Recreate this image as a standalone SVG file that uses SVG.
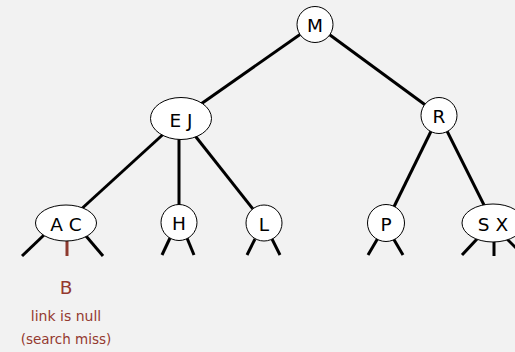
<svg xmlns="http://www.w3.org/2000/svg" width="515" height="352" viewBox="0 0 515 352">
  <style>
    .edge { stroke: #000; stroke-width: 3; stroke-linecap: butt; fill: none; }
    .nil { stroke: #000; stroke-width: 3; }
    .miss { stroke: #8e3a2f; stroke-width: 3; }
    .node { fill: #fff; stroke: #000; stroke-width: 1; }
    .key { font-family: "DejaVu Sans", "Open Sans", sans-serif; font-size: 18.5px; fill: #000; text-anchor: middle; }
    .note { font-family: "DejaVu Sans", "Open Sans", sans-serif; fill: #94392f; text-anchor: middle; }
  </style>
  <rect width="515" height="352" fill="#f2f2f2"/>

  <g id="connectors">
    <line class="edge" x1="315" y1="24" x2="181" y2="118"/>
    <line class="edge" x1="315" y1="24" x2="439" y2="115"/>
    <line class="edge" x1="181" y1="118" x2="66" y2="223"/>
    <line class="edge" x1="179" y1="118" x2="179" y2="222"/>
    <line class="edge" x1="181" y1="118" x2="264" y2="223"/>
    <line class="edge" x1="439" y1="115" x2="386" y2="223"/>
    <line class="edge" x1="439" y1="115" x2="493" y2="223"/>
    <!-- null links -->
    <line class="nil" x1="22" y1="256" x2="44" y2="235"/>
    <line class="nil" x1="86" y1="236" x2="103" y2="256"/>
    <line class="miss" x1="67" y1="240" x2="67" y2="256"/>
    <line class="nil" x1="162" y1="255" x2="170" y2="238"/>
    <line class="nil" x1="187" y1="238" x2="194" y2="255"/>
    <line class="nil" x1="247" y1="255" x2="255" y2="239"/>
    <line class="nil" x1="272" y1="239" x2="280" y2="255"/>
    <line class="nil" x1="368" y1="255" x2="378" y2="238"/>
    <line class="nil" x1="393" y1="238" x2="403" y2="255"/>
    <line class="nil" x1="462" y1="255" x2="477" y2="239"/>
    <line class="nil" x1="494" y1="240" x2="494" y2="256"/>
    <line class="nil" x1="506" y1="238" x2="520" y2="252"/>
  </g>

  <g id="node-M">
    <circle class="node" cx="315" cy="24.5" r="18"/>
    <text class="key" x="315" y="32">M</text>
  </g>
  <g id="node-EJ">
    <ellipse class="node" cx="181" cy="118.5" rx="30.5" ry="21"/>
    <text class="key" x="181" y="126.5">E J</text>
  </g>
  <g id="node-R">
    <circle class="node" cx="439" cy="115.5" r="18"/>
    <text class="key" x="439" y="123">R</text>
  </g>
  <g id="node-AC">
    <ellipse class="node" cx="66" cy="223" rx="30.5" ry="18"/>
    <text class="key" x="66" y="231">A C</text>
  </g>
  <g id="node-H">
    <circle class="node" cx="179" cy="222.5" r="18"/>
    <text class="key" x="179" y="230">H</text>
  </g>
  <g id="node-L">
    <circle class="node" cx="264" cy="223" r="18"/>
    <text class="key" x="264" y="230.5">L</text>
  </g>
  <g id="node-P">
    <circle class="node" cx="386" cy="223" r="18.5"/>
    <text class="key" x="386" y="230.5">P</text>
  </g>
  <g id="node-SX">
    <ellipse class="node" cx="493" cy="223" rx="31" ry="19"/>
    <text class="key" x="493" y="230.5">S X</text>
  </g>

  <g id="miss-label">
    <text class="note" x="66" y="294" font-size="18.5px">B</text>
    <text class="note" x="66" y="320.5" font-size="14px">link is null</text>
    <text class="note" x="66" y="343.5" font-size="13.5px">(search miss)</text>
  </g>
</svg>
